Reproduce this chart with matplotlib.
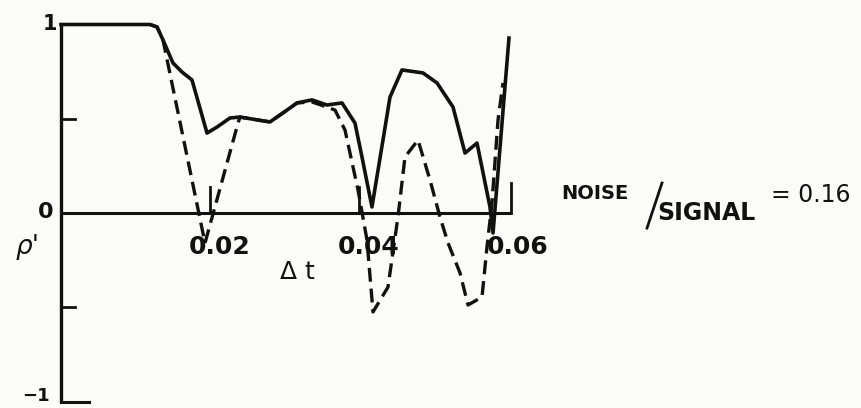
import matplotlib
matplotlib.use("Agg")
import matplotlib.pyplot as plt

plt.rcParams['lines.scale_dashes'] = False
plt.rcParams['font.family'] = ['DejaVu Sans']

# ---- data ----
dt_solid = [0.0, 0.01195, 0.01289, 0.01369, 0.01503, 0.01624, 0.01758, 0.01960,
            0.02094, 0.02268, 0.02403, 0.02805, 0.03034, 0.03168, 0.03369, 0.03570,
            0.03772, 0.03946, 0.04040, 0.04174, 0.04322, 0.04416, 0.04577, 0.04859,
            0.05047, 0.05262, 0.05423, 0.05584, 0.05758, 0.05799, 0.06013]
rho_solid = [1.0, 1.0, 0.987, 0.918, 0.796, 0.748, 0.706, 0.424,
             0.456, 0.504, 0.509, 0.483, 0.546, 0.584, 0.600, 0.573,
             0.584, 0.477, 0.297, 0.032, 0.387, 0.615, 0.759, 0.743,
             0.690, 0.562, 0.318, 0.371, 0.032, -0.106, 0.928]

dt_dashed = [0.01195, 0.01289, 0.01369, 0.01933, 0.02376, 0.02403, 0.02805, 0.03034,
             0.03168, 0.03369, 0.03570, 0.03678, 0.03812, 0.03987, 0.04107, 0.04188,
             0.04389, 0.04523, 0.04617, 0.04792, 0.04953, 0.05087, 0.05195, 0.05356,
             0.05463, 0.05651, 0.05718, 0.05785, 0.05866, 0.05933]
rho_dashed = [1.0, 0.987, 0.918, -0.159, 0.477, 0.509, 0.483, 0.546,
              0.584, 0.589, 0.562, 0.546, 0.440, 0.122, -0.143, -0.525,
              -0.393, -0.021, 0.297, 0.387, 0.175, -0.021, -0.159, -0.318,
              -0.488, -0.446, -0.180, 0.053, 0.493, 0.690]

x_ticks = [0.02, 0.04, 0.06]
x_tick_labels = ['0.02', '0.04', '0.06']
y_minor = [0.5, -0.5]
noise_ratio = '0.16'

INK = '#111111'

fig = plt.figure(figsize=(8.62, 4.08), dpi=100)
fig.patch.set_facecolor('#fbfbf9')
ax = fig.add_axes([0, 0, 1, 1])
ax.set_facecolor('#fbfbf9')
ax.set_xlim(-61 / 7450, (862 - 61) / 7450)
ax.set_ylim((213 - 408) / 188.5, 213 / 188.5)
ax.axis('off')

# axes drawn by hand (as in the original)
x_end = 0.0604
ax.plot([0, x_end], [0, 0], color=INK, lw=2.2, solid_capstyle='butt')
ax.plot([0, 0], [-1, 1], color=INK, lw=2.4, solid_capstyle='butt')
for yv in y_minor:
    ax.plot([0, 0.0019], [yv, yv], color=INK, lw=2.0)
ax.plot([0, 0.0037], [-1, -1], color=INK, lw=2.2)
for xv in x_ticks[:2]:
    ax.plot([xv, xv], [0, 0.138], color=INK, lw=2.0)
ax.plot([x_end, x_end], [0, 0.16], color=INK, lw=2.0)

# curves
ax.plot(dt_solid, rho_solid, color=INK, lw=2.6, solid_joinstyle='round')
ax.plot(dt_dashed, rho_dashed, color=INK, lw=2.4, dashes=(10, 5))

# tick labels
for xv, lab in zip(x_ticks, x_tick_labels):
    ax.text(xv + 0.0013, -0.18, lab, ha='center', va='center',
            fontsize=18, fontweight='bold', color=INK)
ax.text(-0.0020, 0.005, '0', ha='center', va='center', fontsize=16, fontweight='bold', color=INK)
ax.text(-0.00148, 1.0, '1', ha='center', va='center', fontsize=15, fontweight='bold', color=INK)
ax.text(-0.00336, -0.972, '−1', ha='center', va='center', fontsize=13, fontweight='bold', color=INK)
ax.text(-0.00443, -0.18, "ρ'", ha='center', va='center', fontsize=19, color=INK,
        style='italic')
ax.text(0.0318, -0.313, 'Δ t', ha='center', va='center', fontsize=18, color=INK)

# annotation
ax.text(0.07168, 0.106, 'NOISE', ha='center', va='center', fontsize=14,
        fontweight='bold', color=INK)
ax.plot([0.07866, 0.08067], [-0.080, 0.159], color=INK, lw=2.0)
ax.text(0.08658, 0.0, 'SIGNAL', ha='center', va='center', fontsize=17,
        fontweight='bold', color=INK)
ax.text(0.10067, 0.095, '= ' + noise_ratio, ha='center', va='center', fontsize=17,
        color=INK)

fig.savefig('out.png', dpi=100, facecolor=fig.get_facecolor())
